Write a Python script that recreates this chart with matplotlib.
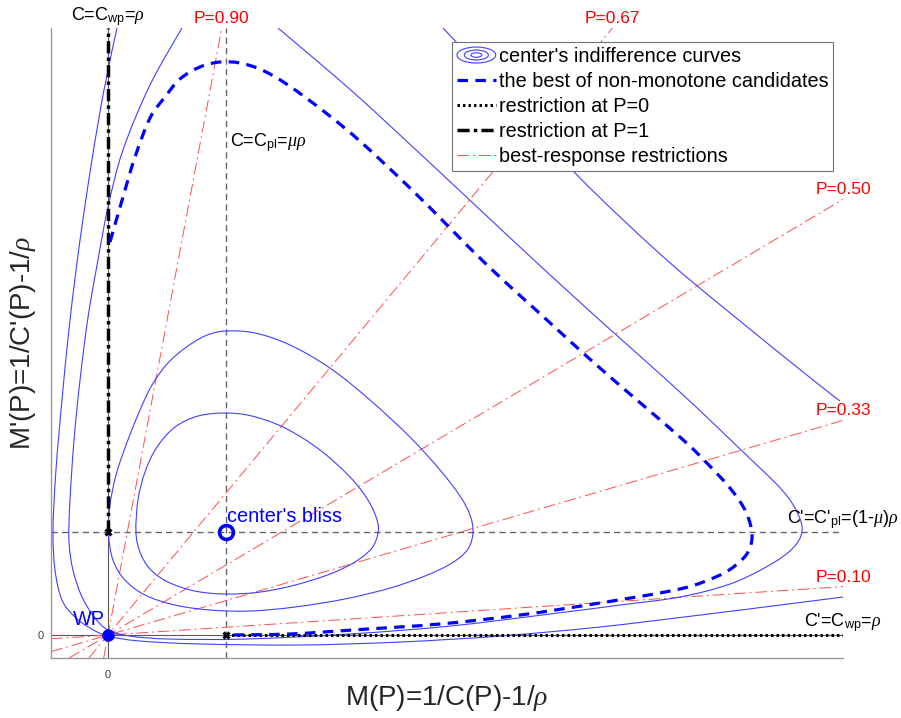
import numpy as np
import matplotlib
matplotlib.use("Agg")
import matplotlib.pyplot as plt
from matplotlib.legend_handler import HandlerBase
from matplotlib.patches import Ellipse, PathPatch
from matplotlib.lines import Line2D
from matplotlib.path import Path

plt.rcParams['font.family'] = ['Liberation Sans', 'DejaVu Sans']
plt.rcParams['mathtext.fontset'] = 'custom'
plt.rcParams['mathtext.rm'] = 'Liberation Sans'
plt.rcParams['mathtext.sf'] = 'Liberation Sans'
plt.rcParams['mathtext.it'] = 'Liberation Serif:italic'

# ---------------- data ----------------
bliss = (1.0, 1.0)          # centre's bliss point (M, M')
wp = (0.0, 0.0)             # WP
xlim = (-0.483, 6.229)
ylim = (-0.223, 5.893)

P_values = [0.10, 0.33, 0.50, 0.67, 0.90]
P_labels = ["P=0.10", "P=0.33", "P=0.50", "P=0.67", "P=0.90"]
ray_k = 0.679               # ray slope = k * P / (1 - P)

# indifference curve 1 (innermost, closed)
c1_x = [0.237, 0.254, 0.314, 0.415, 0.568, 0.763, 0.992, 1.220, 1.500, 1.797, 2.051, 2.203,
        2.280, 2.288, 2.237, 2.093, 1.881, 1.585, 1.288, 1.000, 0.737, 0.508, 0.356, 0.271,
        0.237]
c1_y = [1.000, 1.311, 1.583, 1.825, 2.019, 2.126, 2.155, 2.126, 2.010, 1.796, 1.534, 1.311,
        1.117, 0.990, 0.845, 0.709, 0.592, 0.485, 0.417, 0.398, 0.427, 0.515, 0.641, 0.806,
        1.000]
# indifference curve 2 (closed)
c2_x = [0.004, 0.017, 0.068, 0.153, 0.271, 0.373, 0.500, 0.653, 0.822, 0.992, 1.246, 1.542,
        1.881, 2.220, 2.559, 2.814, 2.983, 3.068, 3.093, 3.051, 2.915, 2.686, 2.390, 2.008,
        1.585, 1.203, 0.864, 0.568, 0.314, 0.144, 0.042, 0.004]
c2_y = [0.990, 1.262, 1.553, 1.845, 2.184, 2.427, 2.631, 2.786, 2.903, 2.951, 2.932, 2.816,
        2.592, 2.282, 1.922, 1.602, 1.350, 1.165, 1.000, 0.835, 0.699, 0.573, 0.456, 0.350,
        0.272, 0.233, 0.243, 0.291, 0.388, 0.534, 0.728, 0.990]
# indifference curve 3 (through WP)
c3_x = [0.627, 0.356, 0.127, 0.000, -0.085, -0.169, -0.237, -0.288, -0.322, -0.331, -0.297,
        -0.220, -0.110, 0.000, 0.186, 0.525, 1.161, 2.051, 2.898, 3.746, 4.339, 4.847, 5.271,
        5.593, 5.797, 5.881, 5.847, 5.712, 5.356, 4.847, 4.025, 3.373, 2.729, 2.076, 1.441]
c3_y = [5.893, 5.340, 4.709, 4.155, 3.641, 3.087, 2.476, 1.893, 1.311, 0.922, 0.631,
        0.369, 0.165, 0.049, -0.010, -0.039, -0.039, 0.010, 0.087, 0.204, 0.291, 0.369, 0.495,
        0.670, 0.835, 1.000, 1.175, 1.408, 1.806, 2.359, 3.204, 3.893, 4.583, 5.272, 5.893]
# indifference curve 4 (outermost): left/bottom piece and upper-right piece
c4a_x = [0.076, -0.034, -0.136, -0.237, -0.322, -0.390, -0.441, -0.466, -0.449, -0.390,
         -0.280, -0.153, 0.000, 0.271, 0.780, 1.627, 2.475, 3.322, 4.169, 5.017, 5.695, 6.229]
c4a_y = [5.893, 5.291, 4.612, 3.835, 3.058, 2.282, 1.602, 1.019, 0.631, 0.340,
         0.175, 0.068, -0.010, -0.058, -0.087, -0.097, -0.068, -0.010, 0.078, 0.194, 0.291,
         0.369]
c4b_x = [2.839, 3.407, 3.975, 4.669, 5.220, 5.975, 6.203]
c4b_y = [5.893, 5.194, 4.466, 3.709, 3.175, 2.476, 2.272]

# the best of non-monotone candidates
best_x = [0.017, 0.127, 0.229, 0.356, 0.483, 0.610, 0.780, 0.949, 1.119, 1.305, 1.525, 1.847,
          2.144, 2.559, 2.890, 3.212, 3.636, 4.169, 4.847, 5.059, 5.271, 5.407, 5.458, 5.424,
          5.322, 5.169, 4.847, 4.169, 3.492, 2.814, 2.076, 1.542, 1.000]
best_y = [3.816, 4.252, 4.641, 5.019, 5.223, 5.398, 5.515, 5.563, 5.553, 5.485, 5.340, 5.068,
          4.786, 4.340, 3.961, 3.592, 3.146, 2.592, 1.922, 1.689, 1.427, 1.194, 0.971, 0.806,
          0.680, 0.573, 0.447, 0.311, 0.194, 0.107, 0.049, 0.010, 0.000]

# restrictions
p0_x = [1.0, 6.229]      # P=0 restriction along M'=0
p0_y = [0.0, 0.0]
p1_x = [0.0, 0.0]        # P=1 restriction along M=0
p1_y = [1.0, 5.893]


def smooth_path(xs, ys):
    """Smooth path through the read points (Catmull-Rom drawn as cubic Bezier)."""
    pts = np.column_stack([xs, ys]).astype(float)
    n = len(pts)
    closed = np.allclose(pts[0], pts[-1])
    verts = [pts[0]]
    codes = [Path.MOVETO]
    for i in range(n - 1):
        if i > 0:
            p0 = pts[i - 1]
        else:
            p0 = pts[-2] if closed else pts[0]
        p1, p2 = pts[i], pts[i + 1]
        if i + 2 < n:
            p3 = pts[i + 2]
        else:
            p3 = pts[1] if closed else pts[-1]
        verts += [p1 + (p2 - p0) / 6.0, p2 - (p3 - p1) / 6.0, p2]
        codes += [Path.CURVE4] * 3
    return Path(verts, codes)


# ---------------- figure ----------------
fig = plt.figure(figsize=(9.01, 7.18), dpi=100)
ax = fig.add_axes([51/901, 60/718, 792/901, 630/718])
ax.set_xlim(*xlim)
ax.set_ylim(*ylim)

blue_thin = (0.25, 0.25, 1.0)
red_ray = (1, 0.3, 0.3)
best_ls = (0, (3.3, 2.3))
ax.axhline(0, color='0.35', lw=0.8, zorder=1)
ax.axvline(0, color='0.35', lw=0.8, zorder=1)
ax.axvline(bliss[0], color='0.4', lw=1.0, ls=(0, (4.5, 3)), zorder=1)
ax.axhline(bliss[1], color='0.4', lw=1.0, ls=(0, (4.5, 3)), zorder=1)

# rays
for P, lab in zip(P_values, P_labels):
    s = ray_k * P / (1 - P)
    x0 = max(xlim[0], ylim[0] / s)
    x1 = min(xlim[1], ylim[1] / s)
    ax.plot([x0, x1], [s * x0, s * x1], color=red_ray, lw=0.7,
            ls=(0, (12, 4, 2, 4)), zorder=2)
    ax.annotate(lab, xy=(x1, s * x1), xytext=(0, 1.5), textcoords='offset points',
                ha='center', va='bottom', color='red', fontsize=12.5, annotation_clip=False)

for cx, cy in [(c1_x, c1_y), (c2_x, c2_y), (c3_x, c3_y), (c4a_x, c4a_y), (c4b_x, c4b_y)]:
    ax.add_patch(PathPatch(smooth_path(cx, cy), fill=False, edgecolor=blue_thin,
                           lw=0.8, zorder=3))

ax.plot(p0_x, p0_y, color='black', lw=2.2, ls=(0, (0.8, 1.0)), zorder=4)
ax.plot(p1_x, p1_y, color='black', lw=2.5, ls=(0, (3.5, 1.2, 1, 1.2)), zorder=4)
ax.add_patch(PathPatch(smooth_path(best_x, best_y), fill=False, edgecolor=(0, 0, 1),
                       lw=2.3, ls=best_ls, zorder=5))

ax.plot([0, 1], [1, 0], ls='none', marker='x', ms=5, mew=2.2, color='black', zorder=6)
ax.plot([bliss[0]], [bliss[1]], marker='o', ms=10, mew=2.6, mfc='none', mec='blue', zorder=7)
ax.plot([wp[0]], [wp[1]], marker='o', ms=8, mfc='blue', mec='blue', zorder=7)

ax.annotate("center's bliss", xy=bliss, xytext=(1, 4), textcoords='offset points',
            ha='left', va='bottom', color='blue', fontsize=14.3)
ax.annotate("WP", xy=wp, xytext=(-2, 4), textcoords='offset points',
            ha='right', va='bottom', color='blue', fontsize=14.3)

ax.annotate(r"C=C$_{\rm wp}$=$\rho$", xy=(0, ylim[1]), xytext=(0, 0), textcoords='offset points',
            ha='center', va='bottom', fontsize=13, annotation_clip=False)
ax.annotate(r"C=C$_{\rm pl}$=$\mu\rho$", xy=(1, 4.78), xytext=(3, 0), textcoords='offset points',
            ha='left', va='center', fontsize=13)
ax.annotate(r"C'=C'$_{\rm pl}$=(1-$\mu$)$\rho$", xy=(xlim[1], 1), xytext=(0, 1),
            textcoords='offset points', ha='center', va='bottom', fontsize=13,
            annotation_clip=False)
ax.annotate(r"C'=C$_{\rm wp}$=$\rho$", xy=(xlim[1], 0), xytext=(0, 1),
            textcoords='offset points', ha='center', va='bottom', fontsize=13,
            annotation_clip=False)

# axes cosmetics
for sp in ['top', 'right']:
    ax.spines[sp].set_visible(False)
for sp in ['left', 'bottom']:
    ax.spines[sp].set_color('0.6')
    ax.spines[sp].set_linewidth(1.0)
ax.set_xticks([0])
ax.set_yticks([0])
ax.set_xticklabels(['0'])
ax.set_yticklabels(['0'])
ax.tick_params(axis='x', length=0, labelsize=8, colors='0.25', pad=9)
ax.tick_params(axis='y', length=0, labelsize=8, colors='0.25', pad=5)
ax.set_xlabel(r"M(P)=1/C(P)-1/$\rho$", fontsize=20, color='0.15', labelpad=2)
ax.set_ylabel(r"M'(P)=1/C'(P)-1/$\rho$", fontsize=20, color='0.15', labelpad=0)


class HandlerRings(HandlerBase):
    def create_artists(self, legend, orig_handle, xdescent, ydescent, width, height,
                       fontsize, trans):
        cx = width / 2 - xdescent
        cy = height / 2 - ydescent
        arts = []
        for f in (1.0, 0.62, 0.28):
            arts.append(Ellipse((cx, cy), width * f, height * 1.15 * f, fill=False,
                                edgecolor=blue_thin, lw=0.8, transform=trans))
        return arts


ring_handle = Line2D([], [], color=blue_thin)
h_best = Line2D([], [], color=(0, 0, 1), lw=2.3, ls=best_ls)
h_p0 = Line2D([], [], color='black', lw=2.2, ls=(0, (0.8, 1.0)))
h_p1 = Line2D([], [], color='black', lw=2.5, ls=(0, (3.5, 1.2, 1, 1.2)))
h_br = Line2D([], [], color=red_ray, lw=0.7, ls=(0, (12, 4, 2, 4)))
leg = ax.legend([ring_handle, h_best, h_p0, h_p1, h_br],
                ["center's indifference curves", "the best of non-monotone candidates",
                 "restriction at P=0", "restriction at P=1", "best-response restrictions"],
                handler_map={ring_handle: HandlerRings()},
                loc='upper left', bbox_to_anchor=((452 - 51) / 792, (658 - 42) / 630),
                borderaxespad=0, fontsize=14.3, handlelength=1.95, handletextpad=0.15,
                labelspacing=0.3, borderpad=0.25, fancybox=False, framealpha=1,
                edgecolor='0.45')
leg.get_frame().set_linewidth(0.8)
leg.set_zorder(10)

fig.savefig("out.png", dpi=100, facecolor='white')
